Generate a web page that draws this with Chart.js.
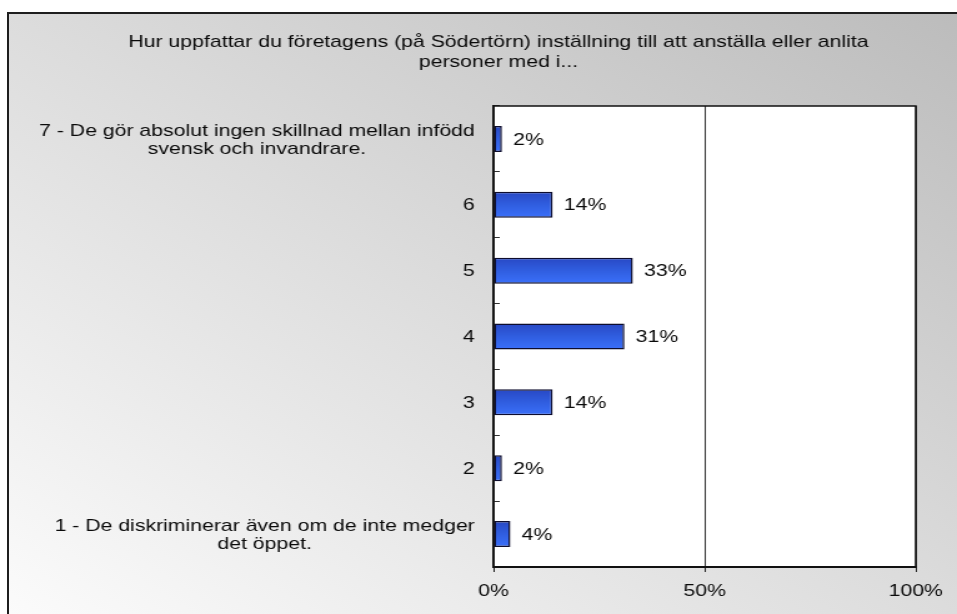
<!DOCTYPE html>
<html lang="sv">
<head>
<meta charset="utf-8">
<title>Företagens inställning</title>
<script src="https://cdn.jsdelivr.net/npm/chart.js@4/dist/chart.umd.min.js"></script>
<style>
  html, body { margin: 0; padding: 0; background: #ffffff; }
  #stage { position: relative; width: 957px; height: 614px; overflow: hidden; }
  #panel {
    position: absolute; left: 7px; top: 12px; right: 0; bottom: 0;
    border-left: 2px solid #1e1e1e; border-top: 2px solid #1e1e1e;
    background: linear-gradient(to top right, #fbfbfb 0%, #dcdcdc 50%, #bcbcbc 100%);
  }
  #chart { position: absolute; left: 0; top: 0; }
</style>
</head>
<body>
<div id="stage">
  <div id="panel"></div>
  <!-- drawn at a narrower resolution and widened, giving the stretched lettering -->
  <canvas id="chart" width="766" height="614" style="width: 957px; height: 614px;"></canvas>
</div>
<script>
// Survey answers, scale 7 (top) down to 1 (bottom)
const categories = [
  ['7 - De gör absolut ingen skillnad mellan infödd', 'svensk och invandrare.'],
  '6', '5', '4', '3', '2',
  ['1 - De diskriminerar även om de inte medger', 'det öppet.']
];
const shares = [2, 14, 33, 31, 14, 2, 4];   // percent of respondents
const titleLines = [
  'Hur uppfattar du företagens (på Södertörn) inställning till att anställa eller anlita',
  'personer med i...'
];
const axisMin = 0, axisMax = 100, axisStep = 50;

const FONT = '"Liberation Sans", Arial, sans-serif';
const INK = '#0a0a0a';

// white plot box with its top and right frame lines
const plotFrame = {
  id: 'plotFrame',
  beforeDraw(chart) {
    const { ctx, chartArea: a } = chart;
    ctx.save();
    ctx.fillStyle = '#ffffff';
    ctx.fillRect(a.left, a.top, a.right - a.left, a.bottom - a.top);
    ctx.restore();
  },
  afterDraw(chart) {
    const { ctx, chartArea: a } = chart;
    ctx.save();
    ctx.strokeStyle = '#111111';
    ctx.lineWidth = 1.6;
    ctx.beginPath();
    ctx.moveTo(a.left, a.top);
    ctx.lineTo(a.right, a.top);
    ctx.lineTo(a.right, a.bottom);
    ctx.stroke();
    ctx.restore();
  }
};

// vertical shading on each bar
const barShade = {
  id: 'barShade',
  beforeDatasetsDraw(chart) {
    const ctx = chart.ctx;
    chart.getDatasetMeta(0).data.forEach(bar => {
      const top = bar.y - bar.height / 2;
      const g = ctx.createLinearGradient(0, top, 0, top + bar.height);
      g.addColorStop(0, '#2848c4');
      g.addColorStop(0.5, '#305ee0');
      g.addColorStop(1, '#3b70fa');
      bar.options = Object.assign({}, bar.options, { backgroundColor: g });
    });
  }
};

// percentage written just past the end of each bar
const valueLabels = {
  id: 'valueLabels',
  afterDatasetsDraw(chart) {
    const ctx = chart.ctx;
    const ds = chart.data.datasets[0];
    ctx.save();
    ctx.font = '17px ' + FONT;
    ctx.fillStyle = INK;
    ctx.textAlign = 'left';
    ctx.textBaseline = 'middle';
    chart.getDatasetMeta(0).data.forEach((bar, i) => {
      ctx.fillText(ds.data[i] + '%', bar.x + 9, bar.y + 1);
    });
    ctx.restore();
  }
};

// category names: each block right-aligned to the axis, its lines centred within the block
const categoryLabels = {
  id: 'categoryLabels',
  afterDraw(chart) {
    const ctx = chart.ctx;
    const sc = chart.scales.y;
    const lineH = 18;
    ctx.save();
    ctx.font = '17px ' + FONT;
    ctx.fillStyle = INK;
    ctx.textAlign = 'center';
    ctx.textBaseline = 'middle';
    chart.data.labels.forEach((lab, i) => {
      const lines = Array.isArray(lab) ? lab : [lab];
      const w = Math.max(...lines.map(l => ctx.measureText(l).width));
      const cx = sc.right - 15 - w / 2;
      const yc = sc.getPixelForTick(i);
      lines.forEach((l, k) => {
        ctx.fillText(l, cx, yc + 1 + (k - (lines.length - 1) / 2) * lineH);
      });
    });
    ctx.restore();
  }
};

new Chart(document.getElementById('chart'), {
  type: 'bar',
  data: {
    labels: categories,
    datasets: [{
      data: shares,
      backgroundColor: '#305ee0',
      borderColor: '#0d0d2e',
      borderWidth: 1.5,
      borderSkipped: false,
      categoryPercentage: 1,
      barPercentage: 0.395
    }]
  },
  options: {
    indexAxis: 'y',
    responsive: false,
    maintainAspectRatio: false,
    devicePixelRatio: 1,
    animation: false,
    events: [],
    layout: { padding: { left: 65, right: 33, top: 0, bottom: 0 } },
    plugins: {
      legend: { display: false },
      tooltip: { enabled: false },
      title: {
        display: true,
        text: titleLines,
        color: INK,
        font: { family: FONT, size: 17, weight: 'normal', lineHeight: 1.15 },
        padding: { top: 32.5, bottom: 34.4 }
      }
    },
    scales: {
      x: {
        min: axisMin,
        max: axisMax,
        ticks: {
          stepSize: axisStep,
          color: INK,
          padding: 9,
          font: { family: FONT, size: 17 },
          callback: v => v + '%'
        },
        grid: { color: '#333333', lineWidth: 1, tickLength: 5, tickColor: '#222222' },
        border: { display: true, color: '#111111', width: 2 },
        afterFit(scale) { scale.height = 47; }
      },
      y: {
        ticks: { display: false },
        grid: {
          offset: true,
          drawOnChartArea: false,
          drawTicks: true,
          tickLength: -5,
          color: '#333333',
          lineWidth: 1
        },
        border: { display: true, color: '#111111', width: 1.6 },
        afterFit(scale) { scale.width = 330; }
      }
    }
  },
  plugins: [plotFrame, barShade, valueLabels, categoryLabels]
});
</script>
</body>
</html>
